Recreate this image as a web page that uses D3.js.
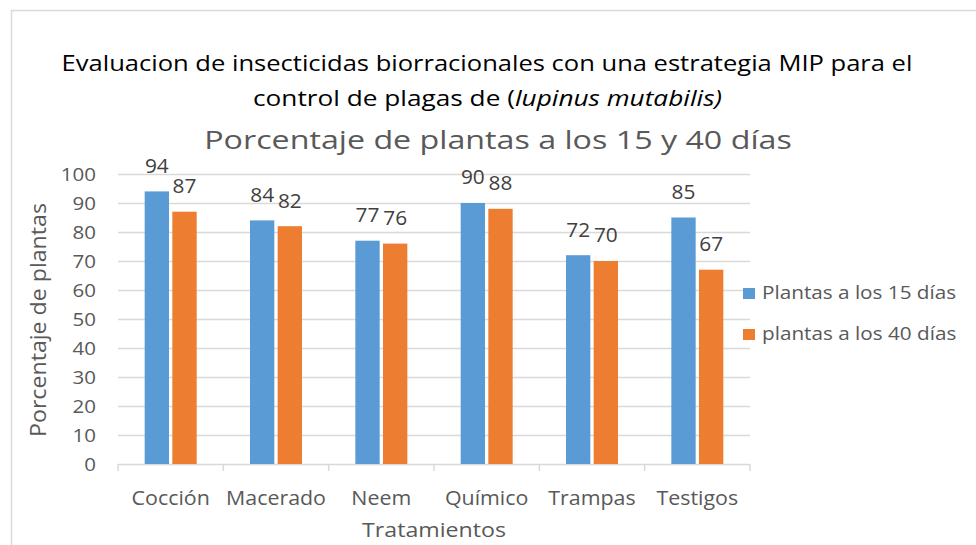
<!DOCTYPE html>
<html><head><meta charset="utf-8">
<script src="https://cdn.jsdelivr.net/npm/d3@7"></script>
<style>body{margin:0;background:#fff}svg{display:block}text{font-family:"Open Sans",sans-serif}</style>
</head><body><svg id="c" width="976" height="545"></svg>
<script>
const categories = ["Cocción","Macerado","Neem","Químico","Trampas","Testigos"];
const seriesNames = ["Plantas a los 15 días","plantas a los 40 días"];
const plantas15 = [94,84,77,90,72,85];
const plantas40 = [87,82,76,88,70,67];
const yTicks = [0,10,20,30,40,50,60,70,80,90,100];
const colors = ["#5b9bd5","#ed7d31"];

const svg = d3.select("#c");
svg.append("rect").attr("width",976).attr("height",545).attr("fill","#fff");
svg.append("path").attr("d","M11.5,545 V10.5 H976").attr("fill","none").attr("stroke","#d9d9d9").attr("stroke-width",1.5);

function stretch(sel, f){
  sel.each(function(){
    const t=d3.select(this); const xx=+t.attr("x")||0;
    const base=t.attr("transform")||"";
    t.attr("transform",`translate(${xx},0) scale(${f},1) translate(${-xx},0) ${base}`);
  });
}
function fitTo(sel, w){ const m=sel.node().getComputedTextLength(); stretch(sel, w/m); }

const L=118,R=750,T=174,B=464;
const x = d3.scaleBand().domain(categories).range([L,R]).paddingInner(0).paddingOuter(0);
const y = d3.scaleLinear().domain([0,100]).range([B,T]);
const sub = d3.scaleBand().domain([0,1]).range([0,52]).paddingInner(0.12);

svg.append("g").selectAll("line").data(yTicks.filter(d=>d>0)).join("line")
  .attr("x1",L).attr("x2",R).attr("y1",d=>y(d)+0.5).attr("y2",d=>y(d)+0.5)
  .attr("stroke","#d9d9d9").attr("stroke-width",1.3);

const yl = svg.append("g").selectAll("text").data(yTicks).join("text")
  .attr("x",96).attr("y",d=>y(d)+7).attr("text-anchor","end")
  .attr("font-size",19).attr("fill","#595959").text(d=>d);
stretch(yl,1.08);

const xa = svg.append("g").attr("transform",`translate(0,${B})`)
  .call(d3.axisBottom(x).tickSize(0).tickFormat(""));
xa.select(".domain").remove();
svg.append("line").attr("x1",L).attr("x2",R).attr("y1",B+0.5).attr("y2",B+0.5).attr("stroke","#d9d9d9").attr("stroke-width",1.5);
const edges = categories.map(c=>x(c)).concat([R]);
svg.append("g").selectAll("line").data(edges).join("line")
  .attr("x1",d=>d).attr("x2",d=>d).attr("y1",B).attr("y2",B+7)
  .attr("stroke","#d9d9d9").attr("stroke-width",1.5);
const xl = svg.append("g").selectAll("text").data(categories).join("text")
  .attr("x",d=>x(d)+x.bandwidth()/2).attr("y",505).attr("text-anchor","middle")
  .attr("font-size",20).attr("fill","#595959").text(d=>d);
stretch(xl,1.07);

const series=[plantas15,plantas40];
const off = (x.bandwidth()-52)/2;
series.forEach((vals,si)=>{
  const g=svg.append("g");
  g.selectAll("rect").data(vals).join("rect")
    .attr("x",(d,i)=>x(categories[i])+off+sub(si)).attr("width",sub.bandwidth())
    .attr("y",d=>y(d)).attr("height",d=>B-y(d)).attr("fill",colors[si]);
  const lt = g.selectAll("text").data(vals).join("text")
    .attr("x",(d,i)=>x(categories[i])+off+sub(si)+sub.bandwidth()/2)
    .attr("y",d=>y(d)-18.5).attr("text-anchor","middle")
    .attr("font-size",19.5).attr("fill","#404040").text(d=>d);
  stretch(lt,1.07);
});

const t1=svg.append("text").attr("x",487).attr("y",71).attr("text-anchor","middle").attr("font-size",21).attr("fill","#000")
  .text("Evaluacion de insecticidas biorracionales con una estrategia MIP para el");
fitTo(t1,851);
const t2=svg.append("text").attr("x",487.5).attr("y",106).attr("text-anchor","middle").attr("font-size",21).attr("fill","#000");
t2.append("tspan").text("control de plagas de (");
t2.append("tspan").attr("font-style","italic").text("lupinus mutabilis)");
fitTo(t2,469);
const t3=svg.append("text").attr("x",498).attr("y",149).attr("text-anchor","middle").attr("font-size",25.5).attr("fill","#595959")
  .text("Porcentaje de plantas a los 15 y 40 días");
fitTo(t3,588);

const yt=svg.append("text").attr("transform","translate(46,320) rotate(-90)").attr("text-anchor","middle")
  .attr("font-size",21).attr("fill","#595959").text("Porcentaje de plantas");
const ytl=yt.node().getComputedTextLength();
yt.attr("transform",`translate(46,320) rotate(-90) scale(${234/ytl},1)`);
const xt=svg.append("text").attr("x",434).attr("y",537).attr("text-anchor","middle")
  .attr("font-size",20).attr("fill","#595959").text("Tratamientos");
fitTo(xt,144);

const lg=svg.append("g").selectAll("g").data(seriesNames).join("g")
  .attr("transform",(d,i)=>`translate(743,${288+i*41})`);
lg.append("rect").attr("width",12).attr("height",11).attr("fill",(d,i)=>colors[i]);
const lt=lg.append("text").attr("x",19).attr("y",10.5).attr("font-size",18.5).attr("fill","#595959").text(d=>d);
stretch(lt,1.12);
</script></body></html>
